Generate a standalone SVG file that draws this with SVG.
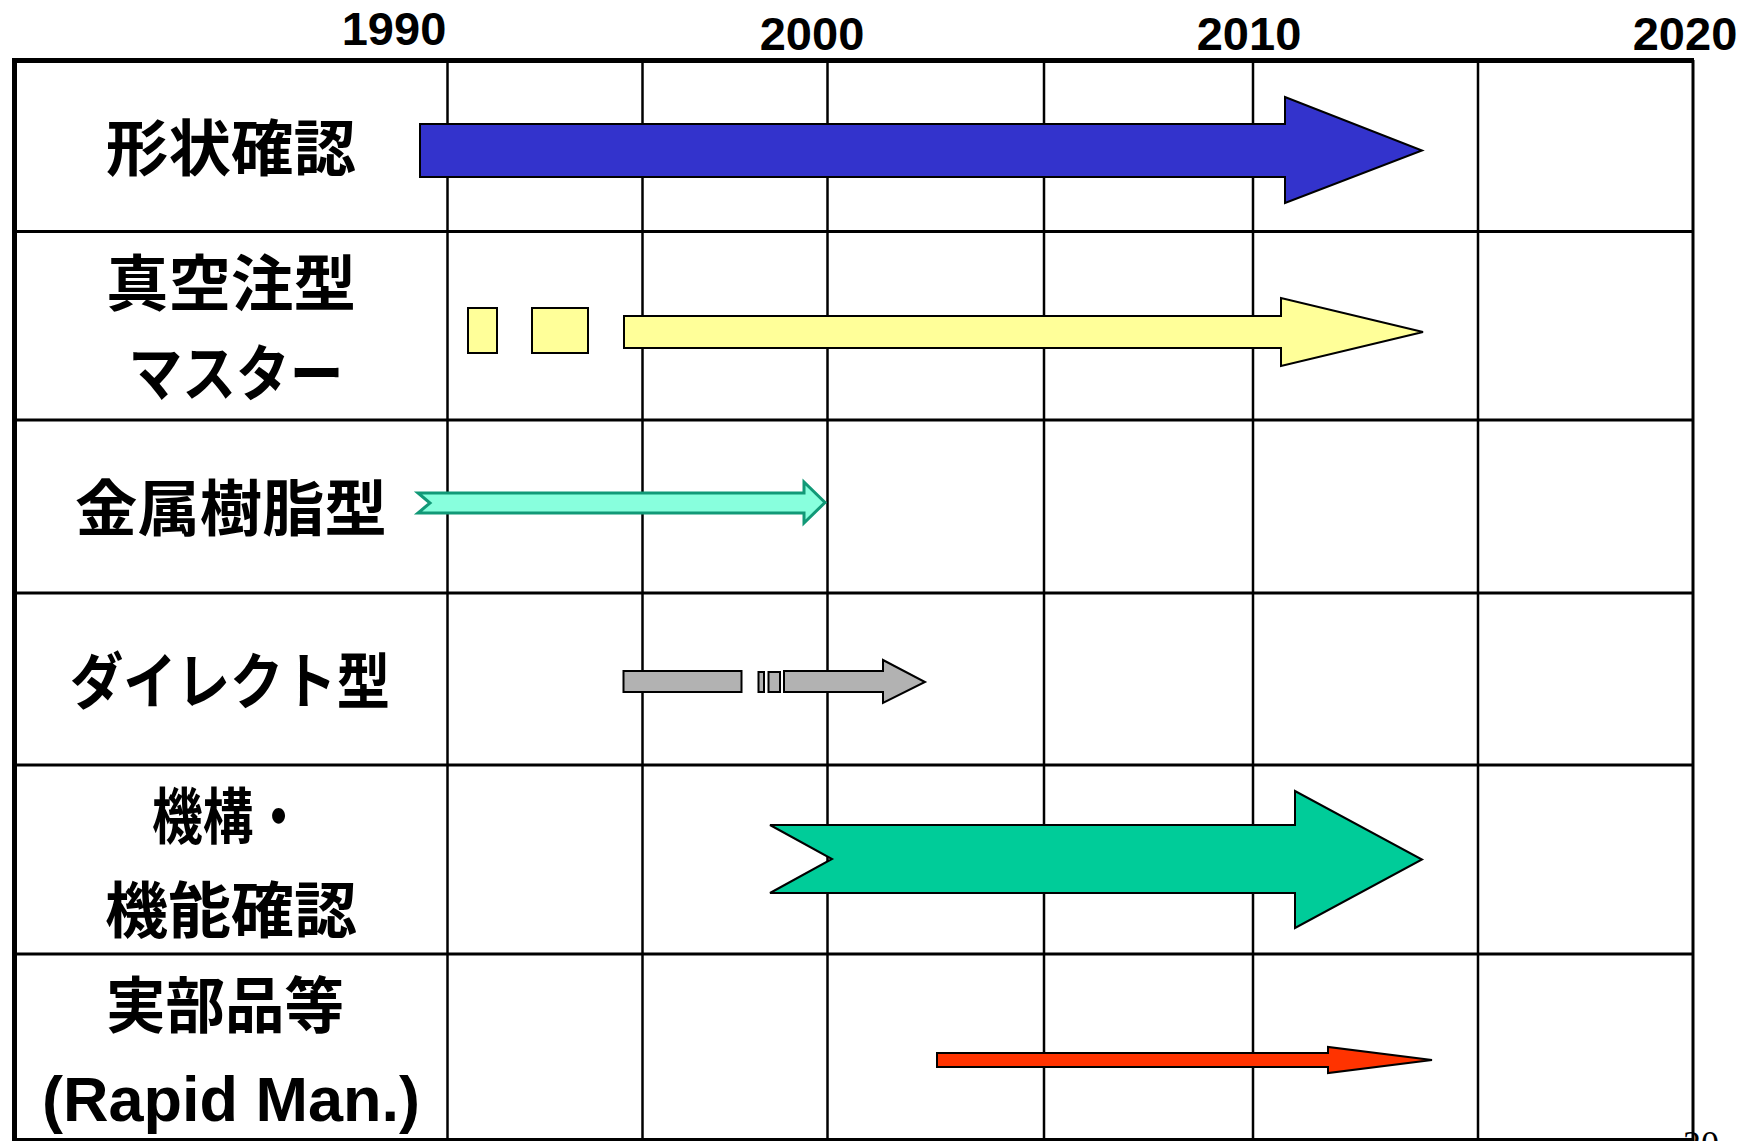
<svg xmlns="http://www.w3.org/2000/svg" width="1740" height="1141" viewBox="0 0 1740 1141">
<style>
.yr{font-family:"Liberation Sans",Arial,sans-serif;font-weight:bold;font-size:47px;text-anchor:middle;fill:#000}
.lb{font-family:"Liberation Sans","Noto Sans CJK JP",sans-serif;font-weight:bold;font-size:61px;text-anchor:middle;fill:#000}
.en{font-family:"Liberation Sans",Arial,sans-serif;font-weight:bold;font-size:63px;text-anchor:middle;fill:#000}
.vl{stroke:#000;stroke-width:2.5}
.hl{stroke:#000;stroke-width:3}
.bar{stroke:#000;stroke-width:2;stroke-linejoin:miter}
</style>
<rect width="1740" height="1141" fill="#fff"/>
<g id="years">
<text class="yr" x="394" y="45">1990</text>
<text class="yr" x="812" y="50">2000</text>
<text class="yr" x="1249" y="50">2010</text>
<text class="yr" x="1685" y="50">2020</text>
</g>
<g id="grid">
<line class="vl" x1="447.5" y1="60" x2="447.5" y2="1141"/>
<line class="vl" x1="642.5" y1="60" x2="642.5" y2="1141"/>
<line class="vl" x1="827.5" y1="60" x2="827.5" y2="1141"/>
<line class="vl" x1="1044" y1="60" x2="1044" y2="1141"/>
<line class="vl" x1="1253" y1="60" x2="1253" y2="1141"/>
<line class="vl" x1="1478" y1="60" x2="1478" y2="1141"/>
<line class="hl" x1="15" y1="231.5" x2="1693" y2="231.5"/>
<line class="hl" x1="15" y1="420" x2="1693" y2="420"/>
<line class="hl" x1="15" y1="593" x2="1693" y2="593"/>
<line class="hl" x1="15" y1="765" x2="1693" y2="765"/>
<line class="hl" x1="15" y1="954" x2="1693" y2="954"/>
<line x1="1693" y1="60" x2="1693" y2="1141" stroke="#000" stroke-width="3"/>
<line x1="15" y1="1139.5" x2="1693" y2="1139.5" stroke="#000" stroke-width="3"/>
<line x1="12.5" y1="60.5" x2="1694" y2="60.5" stroke="#000" stroke-width="5"/>
<line x1="14.5" y1="58" x2="14.5" y2="1141" stroke="#000" stroke-width="5"/>
</g>
<g id="row-shape">
<text class="lb" x="231" y="171" textLength="250" lengthAdjust="spacingAndGlyphs">形状確認</text>
</g>
<g id="row-vacuum">
<text class="lb" x="231" y="306" textLength="250" lengthAdjust="spacingAndGlyphs">真空注型</text>
<text class="lb" x="236" y="396" textLength="215" lengthAdjust="spacingAndGlyphs">マスター</text>
</g>
<g id="row-metal">
<text class="lb" x="231" y="531" textLength="312" lengthAdjust="spacingAndGlyphs">金属樹脂型</text>
</g>
<g id="row-direct">
<text class="lb" x="230" y="704" textLength="320" lengthAdjust="spacingAndGlyphs">ダイレクト型</text>
</g>
<g id="row-mech">
<text class="lb" x="228" y="839" textLength="152" lengthAdjust="spacingAndGlyphs">機構・</text>
<text class="lb" x="231" y="933" textLength="252" lengthAdjust="spacingAndGlyphs">機能確認</text>
</g>
<g id="row-rapid">
<text class="lb" x="225" y="1028" textLength="238" lengthAdjust="spacingAndGlyphs">実部品等</text>
<text class="en" x="231" y="1121">(Rapid Man.)</text>
</g>
<g id="connectors">
<polygon id="arrow-shape" class="bar" fill="#3333CC" points="420,124 1285,124 1285,97 1422,150.5 1285,203 1285,177 420,177"/>
<rect class="bar" fill="#FFFF99" x="468" y="308" width="29" height="45"/>
<rect class="bar" fill="#FFFF99" x="532" y="308" width="56" height="45"/>
<polygon id="arrow-vacuum" class="bar" fill="#FFFF99" points="624,316 1281,316 1281,298 1423,332 1281,366 1281,348 624,348"/>
<polygon id="arrow-metal" fill="#88FFDD" stroke="#119977" stroke-width="3" points="418,493 804,493 804,482 825,502.5 804,523 804,513 418,513 430,503"/>
<rect class="bar" fill="#B2B2B2" x="623.5" y="671" width="118" height="21"/>
<rect class="bar" fill="#B2B2B2" x="758.5" y="672" width="5.5" height="20"/>
<rect class="bar" fill="#B2B2B2" x="768.5" y="672" width="11.5" height="20"/>
<polygon id="arrow-direct" class="bar" fill="#B2B2B2" points="784,671 883,671 883,660 925,682 883,703 883,692 784,692"/>
<polygon id="arrow-mech" class="bar" fill="#00CC99" points="770,825 1295,825 1295,791 1422,859.5 1295,928 1295,893 770,893 832,859"/>
<polygon id="arrow-rapid" class="bar" fill="#FF3300" points="937,1053 1328,1053 1328,1047 1432,1060 1328,1073 1328,1067 937,1067"/>
</g>
<text x="1683" y="1156" font-family="'Liberation Serif',serif" font-size="36" fill="#000">20</text>
</svg>
